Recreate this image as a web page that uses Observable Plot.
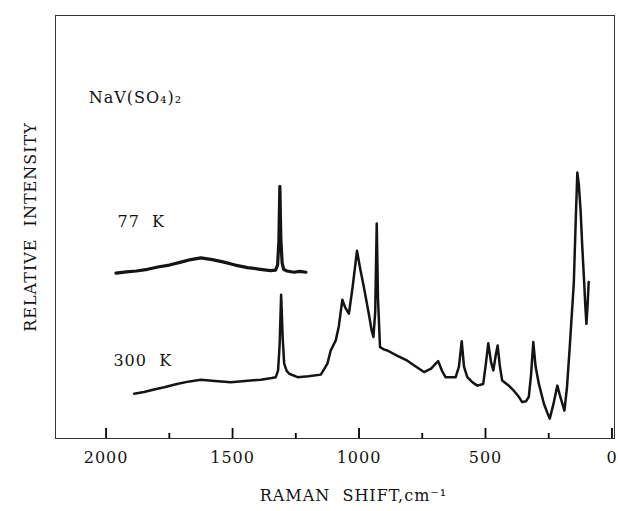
<!DOCTYPE html>
<html>
<head>
<meta charset="utf-8">
<script src="https://cdn.jsdelivr.net/npm/d3@7"></script>
<script src="https://cdn.jsdelivr.net/npm/@observablehq/plot@0.6"></script>
<style>
  html, body { margin: 0; padding: 0; background: #fff; }
</style>
</head>
<body>
<div id="chart"></div>
<script>
// ---- data (wavenumber in cm^-1, relative intensity, arbitrary units) ----
const wavenumber77 = [1961, 1920, 1880, 1836, 1790, 1750, 1704, 1665, 1625, 1580, 1534, 1490, 1441, 1390, 1350, 1330, 1322, 1317, 1313, 1309, 1304, 1298, 1285, 1257, 1235, 1210];
const intensity77  = [39.1, 39.4, 39.6, 40.0, 40.6, 41.0, 41.7, 42.3, 42.7, 42.3, 41.7, 41.0, 40.4, 40.0, 39.7, 39.8, 41.0, 46.5, 59.6, 47.0, 41.5, 40.0, 39.6, 39.3, 39.5, 39.3];

const wavenumber300 = [1889, 1850, 1810, 1770, 1720, 1670, 1625, 1570, 1507, 1450, 1388, 1345, 1329, 1320, 1314, 1308, 1302, 1296, 1286, 1276, 1243, 1200, 1151, 1125, 1112, 1092, 1080, 1066, 1055, 1040, 1025, 1008, 995, 980, 960, 950, 943, 936, 930, 925, 917, 900, 888, 850, 809, 770, 743, 715, 700, 687, 672, 658, 618, 605, 594, 585, 572, 550, 532, 509, 500, 489, 478, 469, 460, 452, 443, 434, 410, 388, 370, 355, 340, 329, 320, 311, 302, 289, 269, 255, 246, 232, 216, 205, 188, 178, 167, 151, 143, 137, 131, 124, 118, 111, 105, 101, 96, 92];
const intensity300  = [10.6, 11.0, 11.6, 12.1, 12.9, 13.5, 13.9, 13.6, 13.3, 13.6, 13.9, 14.3, 14.5, 16.1, 22.0, 34.0, 24.0, 17.7, 16.0, 15.3, 14.5, 14.7, 15.1, 17.7, 20.8, 23.2, 26.5, 32.8, 31.0, 29.5, 36.0, 44.4, 40.0, 35.5, 29.0, 25.5, 24.0, 30.0, 50.8, 33.0, 21.6, 21.0, 20.8, 19.6, 18.4, 16.8, 15.7, 16.5, 17.5, 18.3, 16.0, 14.5, 14.5, 17.0, 23.0, 17.0, 14.5, 13.2, 12.5, 12.9, 17.0, 22.5, 18.0, 16.1, 19.5, 22.0, 17.0, 13.7, 12.6, 11.3, 10.0, 8.6, 8.8, 9.8, 15.0, 22.8, 17.0, 12.9, 8.2, 6.0, 4.7, 8.0, 12.5, 10.0, 6.6, 12.0, 21.6, 36.6, 52.0, 62.9, 60.0, 53.9, 46.0, 38.1, 31.0, 27.1, 32.0, 37.0];

const majorTicks = [2000, 1500, 1000, 500, 0];
const minorTicks = [1750, 1250, 750, 250];
const tickLabels = ["2000", "1500", "1000", "500", "0"];

const compoundLabel = "NaV(SO\u2084)\u2082";
const seriesNames = ["77\u00a0\u00a0K", "300\u00a0\u00a0K"];
const xAxisLabel = "RAMAN\u00a0\u00a0SHIFT,cm\u207b\u00b9";
const yAxisLabel = "RELATIVE\u00a0\u00a0INTENSITY";

// ---- tables built from the arrays ----
const data77 = wavenumber77.map((w, i) => ({w, v: intensity77[i]}));
const data300 = wavenumber300.map((w, i) => ({w, v: intensity300[i]}));

const ink = "#141414";
const frameH = 511 - 15 - 73;
const chart = Plot.plot({
  width: 618,
  height: 511,
  marginLeft: 55,
  marginRight: 4,
  marginTop: 15,
  marginBottom: 73,
  x: {domain: [2200, -10]},
  y: {domain: [0, 100], axis: null},
  style: {fontFamily: "'DejaVu Serif', serif", background: "#fff", color: ink, letterSpacing: "1px"},
  marks: [
    Plot.frame({stroke: "#333", strokeWidth: 1}),
    // inward-pointing ticks along the bottom edge
    Plot.tickX(majorTicks, {x: d => d, insetTop: frameH - 10, stroke: "#000", strokeWidth: 1.8}),
    Plot.tickX(minorTicks, {x: d => d, insetTop: frameH - 5, stroke: "#000", strokeWidth: 1.8}),
    Plot.axisX(majorTicks, {anchor: "bottom", tickSize: 0, tickPadding: 13.5, fontSize: 16, fill: ink,
      tickFormat: d => tickLabels[majorTicks.indexOf(d)], label: null}),
    Plot.line(data77, {x: "w", y: "v", stroke: ink, strokeWidth: 3.2, strokeLinejoin: "round", curve: "linear"}),
    Plot.line(data300, {x: "w", y: "v", stroke: ink, strokeWidth: 2.5, strokeLinejoin: "round", curve: "linear"}),
    Plot.text([compoundLabel], {x: 2069, y: 80.6, textAnchor: "start", lineAnchor: "middle", fontSize: 16, fill: ink}),
    Plot.text([seriesNames[0]], {x: 1955, y: 51.1, textAnchor: "start", lineAnchor: "middle", fontSize: 16, fill: ink}),
    Plot.text([seriesNames[1]], {x: 1971, y: 18.4, textAnchor: "start", lineAnchor: "middle", fontSize: 16, fill: ink}),
    Plot.text([yAxisLabel], {frameAnchor: "left", rotate: -90, dx: -25, lineAnchor: "middle", textAnchor: "middle", fontSize: 16, fill: ink}),
    Plot.text([xAxisLabel], {x: 1022, frameAnchor: "bottom", dy: 62, lineAnchor: "bottom", textAnchor: "middle", fontSize: 16, fill: ink})
  ]
});
document.getElementById("chart").appendChild(chart);
</script>
</body>
</html>
